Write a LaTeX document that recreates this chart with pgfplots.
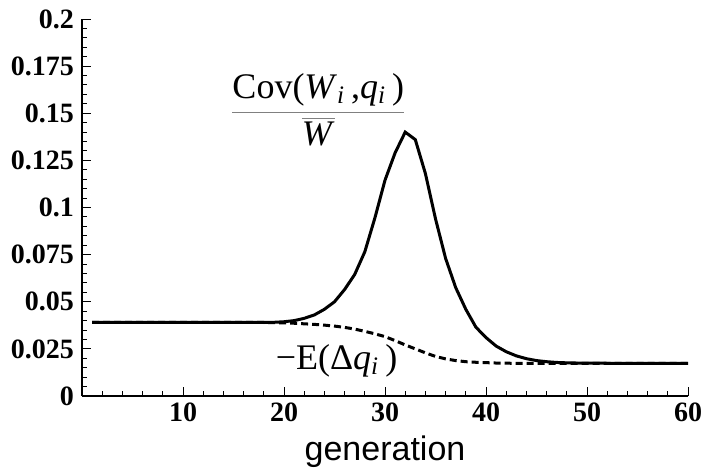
\documentclass[border=0pt]{standalone}
\usepackage{pgfplots}
\pgfplotsset{compat=1.18}
\usepackage{fontspec}
\setmainfont{Liberation Serif}
\newfontfamily\labelsans{Liberation Sans}
\usetikzlibrary{calc}

\pgfplotstableread{
x y
1 0.0390
10 0.0390
18 0.0390
19 0.0391
20 0.0394
21 0.0400
22 0.0412
23 0.0430
24 0.0460
25 0.0500
26 0.0565
27 0.0645
28 0.0765
29 0.0945
30 0.1145
31 0.1290
32 0.1400
33 0.1360
34 0.1180
35 0.0940
36 0.0730
37 0.0575
38 0.0460
39 0.0365
40 0.0310
41 0.0265
42 0.0235
43 0.0213
44 0.0198
45 0.0188
46 0.0182
47 0.0178
48 0.0176
49 0.0175
50 0.0174
60 0.0173
}\covdata

\pgfplotstableread{
x y
1 0.0390
10 0.0390
18 0.0390
19 0.0389
20 0.0388
21 0.0386
22 0.0383
23 0.0380
24 0.0376
25 0.0371
26 0.0364
27 0.0355
28 0.0343
29 0.0330
30 0.0315
31 0.0294
32 0.0271
33 0.0250
34 0.0229
35 0.0210
36 0.0197
37 0.0188
38 0.0182
39 0.0179
40 0.0177
41 0.0175
42 0.0174
44 0.0173
60 0.0173
}\edata

\begin{document}
\begin{tikzpicture}
\begin{axis}[
  name=ax,
  scale only axis, width=303pt, height=188.5pt,
  xmin=0, xmax=60, ymin=0, ymax=0.2,
  axis lines=left, axis line style={-, line width=1pt},
  tick align=inside,
  xtick={10,20,30,40,50,60},
  xticklabels={10,20,30,40,50,60},
  minor xtick={2,4,...,58},
  ytick={0,0.025,0.05,0.075,0.1,0.125,0.15,0.175,0.2},
  yticklabels={0,0.025,0.05,0.075,0.1,0.125,0.15,0.175,0.2},
  minor y tick num=4,
  major tick length=4.5pt, minor tick length=2.5pt,
  every tick/.style={black, line width=0.5pt},
  ticklabel style={font=\fontsize{14}{14}\selectfont\bfseries},
  yticklabel style={xshift=-0.5pt},
  /pgf/number format/assume math mode=true,
  xlabel={generation},
  xlabel style={font=\labelsans\fontsize{17}{17}\selectfont, at={(axis description cs:0.5,0)}, anchor=base, yshift=-32pt},
  clip=false,
]
\addplot[black, line width=1.5pt] table[x=x, y=y] {\covdata};
\addplot[black, line width=1.5pt, dash pattern=on 3.5pt off 2pt] table[x=x, y=y] {\edata};

\node[font=\fontsize{18}{21}\selectfont, anchor=base, yshift=-4.5pt, inner sep=0pt] at (axis cs:23.4,0.1504)
  {$\displaystyle{\color{gray}\frac{\color{black}\mbox{Cov(\textit{W}\textsubscript{\textit{i}}\,,\textit{q}\textsubscript{\textit{i}}\,)}}{\color{gray}\overline{\color{black}\mbox{\textit{W}}}}}$};
\node[font=\fontsize{18}{21}\selectfont, inner sep=0pt] at (axis cs:25.2,0.0185)
  {−E(Δ\textit{q}\textsubscript{\textit{i}}\,)};
\end{axis}
\pgfresetboundingbox
\path[use as bounding box] ($(ax.south west)+(-41pt,-37.5pt)$) rectangle ($(ax.north east)+(9pt,9.5pt)$);
\end{tikzpicture}
\end{document}
